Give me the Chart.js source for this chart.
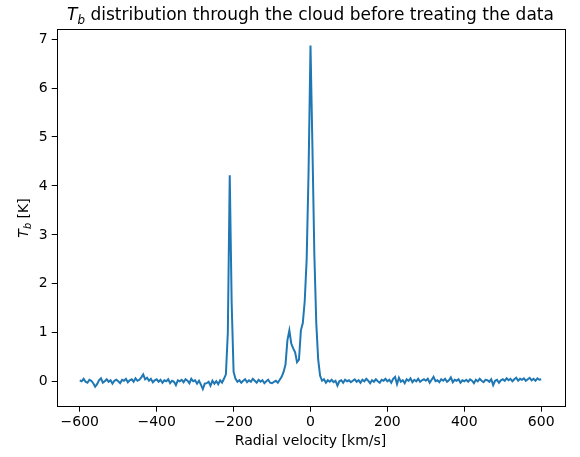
<!DOCTYPE html>
<html>
<head>
<meta charset="utf-8">
<title>Tb distribution</title>
<script src="https://cdn.jsdelivr.net/npm/chart.js@4"></script>
<style>
    html, body { margin: 0; padding: 0; background: #fff; }
    canvas { display: block; }
</style>
</head>
<body>
<canvas id="chart" width="580" height="457"></canvas>
<script>
// Velocidades radiais (km/s)
const velocity = [
    -600, -595, -590, -585, -580, -575, -570, -565, -560, -555, -550, -545, -540, -535, -530, -525, -520, -515, -510, -505,
    -500, -495, -490, -485, -480, -475, -470, -465, -460, -455, -450, -445, -440, -435, -430, -425, -420, -415, -410, -405,
    -400, -395, -390, -385, -380, -375, -370, -365, -360, -355, -350, -345, -340, -335, -330, -325, -320, -315, -310, -305,
    -300, -295, -290, -285, -280, -275, -270, -265, -260, -255, -250, -245, -240, -235, -230, -225, -220, -215, -210, -205,
    -200, -195, -190, -185, -180, -175, -170, -165, -160, -155, -150, -145, -140, -135, -130, -125, -120, -115, -110, -105,
    -100, -95, -90, -85, -80, -75, -70, -65, -60, -55, -50, -45, -40, -35, -30, -25, -20, -15, -10, -5,
    0, 5, 10, 15, 20, 25, 30, 35, 40, 45, 50, 55, 60, 65, 70, 75, 80, 85, 90, 95,
    100, 105, 110, 115, 120, 125, 130, 135, 140, 145, 150, 155, 160, 165, 170, 175, 180, 185, 190, 195,
    200, 205, 210, 215, 220, 225, 230, 235, 240, 245, 250, 255, 260, 265, 270, 275, 280, 285, 290, 295,
    300, 305, 310, 315, 320, 325, 330, 335, 340, 345, 350, 355, 360, 365, 370, 375, 380, 385, 390, 395,
    400, 405, 410, 415, 420, 425, 430, 435, 440, 445, 450, 455, 460, 465, 470, 475, 480, 485, 490, 495,
    500, 505, 510, 515, 520, 525, 530, 535, 540, 545, 550, 555, 560, 565, 570, 575, 580, 585, 590, 595, 600
];

// Temperatura de brilho Tb (K)
const tb = [
    0.03, 0.01, 0.06, 0.00, -0.02, 0.04, 0.02, -0.03, -0.10, -0.05, 0.03, 0.07, -0.02, 0.01, 0.05, 0.00, 0.03, -0.04, 0.02, 0.04,
    0.01, -0.03, 0.04, 0.02, 0.06, -0.01, 0.03, 0.05, 0.00, 0.07, 0.02, 0.04, 0.09, 0.15, 0.05, 0.08, 0.02, 0.06, -0.01, 0.03,
    0.05, 0.00, 0.04, -0.02, 0.03, 0.01, 0.05, -0.03, 0.02, 0.00, -0.07, 0.03, 0.01, 0.04, -0.01, 0.05, 0.02, -0.03, 0.06, 0.01,
    0.03, -0.04, 0.02, -0.06, -0.15, -0.04, -0.03, 0.00, -0.08, 0.02, -0.04, 0.01, -0.05, 0.03, -0.02, 0.06, 0.15, 1.00, 4.22, 1.60,
    0.20, 0.06, 0.00, 0.03, -0.02, 0.02, 0.05, -0.01, 0.03, 0.00, 0.06, 0.02, -0.02, 0.04, 0.00, 0.03, -0.03, 0.01, 0.04, -0.02,
    -0.03, 0.00, 0.02, -0.02, 0.04, 0.10, 0.20, 0.35, 0.85, 1.05, 0.78, 0.68, 0.60, 0.40, 0.45, 1.05, 1.20, 1.65, 2.50, 4.30,
    6.87, 4.80, 2.60, 1.20, 0.45, 0.12, 0.02, 0.05, -0.02, 0.03, 0.00, 0.04, -0.01, 0.02, -0.08, 0.01, 0.03, -0.02, 0.04, 0.01,
    0.03, -0.01, 0.02, 0.05, 0.00, 0.03, -0.02, 0.04, 0.01, 0.06, 0.02, -0.03, 0.03, 0.00, 0.05, 0.01, -0.02, 0.04, 0.02, 0.06,
    0.01, 0.04, -0.02, 0.06, 0.10, -0.05, 0.08, 0.00, 0.03, -0.03, 0.05, 0.02, 0.07, -0.01, 0.04, 0.01, 0.06, 0.00, 0.03, 0.05,
    0.02, 0.06, -0.02, 0.04, 0.10, 0.01, 0.03, -0.01, 0.05, 0.02, 0.06, 0.00, 0.03, 0.09, -0.01, 0.04, 0.02, 0.05, -0.02, 0.03,
    0.01, 0.04, 0.00, 0.05, 0.02, -0.03, 0.04, 0.01, 0.06, 0.02, -0.01, 0.04, 0.03, 0.00, 0.05, -0.07, 0.02, 0.04, -0.02, 0.03,
    0.05, 0.02, 0.07, 0.03, 0.06, 0.01, 0.05, 0.08, 0.02, 0.06, 0.04, 0.07, 0.02, 0.05, 0.08, 0.03, 0.06, 0.02, 0.07, 0.04, 0.05
];

const xTicks = [-600, -400, -200, 0, 200, 400, 600];
const yTicks = [0, 1, 2, 3, 4, 5, 6, 7];

const FONT = "'DejaVu Sans', sans-serif";

// Título e rótulo do eixo y com subscrito (T_b)
function drawSubText(ctx, x, y, size, rest) {
    ctx.font = 'italic ' + size + 'px ' + FONT;
    const wT = ctx.measureText('T').width;
    ctx.font = 'italic ' + (size * 0.7) + 'px ' + FONT;
    const wB = ctx.measureText('b').width;
    ctx.font = size + 'px ' + FONT;
    const wR = ctx.measureText(rest).width;
    let left = x - (wT + wB + wR) / 2;
    ctx.textAlign = 'left';
    ctx.textBaseline = 'alphabetic';
    ctx.font = 'italic ' + size + 'px ' + FONT;
    ctx.fillText('T', left, y);
    ctx.font = 'italic ' + (size * 0.7) + 'px ' + FONT;
    ctx.fillText('b', left + wT, y + size * 0.22);
    ctx.font = size + 'px ' + FONT;
    ctx.fillText(rest, left + wT + wB, y);
}

const framePlugin = {
    id: 'frame',
    afterDraw(chart) {
        const ctx = chart.ctx;
        const a = chart.chartArea;
        ctx.save();
        ctx.strokeStyle = '#000';
        ctx.lineWidth = 1;
        ctx.strokeRect(Math.round(a.left) + 0.5, Math.round(a.top) + 0.5,
            Math.round(a.right - a.left), Math.round(a.bottom - a.top));
        ctx.fillStyle = '#000';
        const cx = (a.left + a.right) / 2;
        drawSubText(ctx, cx, 20, 17, ' distribution through the cloud before treating the data');

        ctx.save();
        ctx.translate(28, (a.top + a.bottom) / 2);
        ctx.rotate(-Math.PI / 2);
        drawSubText(ctx, 0, 0, 14, ' [K]');
        ctx.restore();

        ctx.font = '14px ' + FONT;
        ctx.textAlign = 'center';
        ctx.textBaseline = 'middle';
        ctx.fillText('Radial velocity [km/s]', cx, 441);
        ctx.restore();
    }
};

const minus = v => String(v).replace('-', '\u2212');

new Chart(document.getElementById('chart'), {
    type: 'line',
    data: {
        datasets: [{
            data: velocity.map((v, i) => ({ x: v, y: tb[i] })),
            borderColor: '#1f77b4',
            borderWidth: 2,
            pointRadius: 0,
            tension: 0,
            fill: false
        }]
    },
    options: {
        responsive: false,
        animation: false,
        events: [],
        layout: { padding: { left: 0, right: 15.7, top: 29.3, bottom: 0 } },
        plugins: { legend: { display: false }, tooltip: { enabled: false } },
        scales: {
            x: {
                type: 'linear',
                min: -660,
                max: 660,
                afterBuildTicks: s => { s.ticks = xTicks.map(v => ({ value: v })); },
                afterFit: s => { s.height = 50.3; },
                border: { display: false },
                grid: { drawOnChartArea: false, drawTicks: true, tickLength: 5, color: '#000' },
                ticks: {
                    padding: 2,
                    color: '#000',
                    font: { family: FONT, size: 14 },
                    maxRotation: 0,
                    callback: v => minus(v)
                }
            },
            y: {
                type: 'linear',
                min: -0.51,
                max: 7.2,
                afterBuildTicks: s => { s.ticks = yTicks.map(v => ({ value: v })); },
                afterFit: s => { s.width = 56.7; },
                border: { display: false },
                grid: { drawOnChartArea: false, drawTicks: true, tickLength: 5, color: '#000' },
                ticks: {
                    padding: 4,
                    color: '#000',
                    font: { family: FONT, size: 14 },
                    callback: v => minus(v)
                }
            }
        }
    },
    plugins: [framePlugin]
});
</script>
</body>
</html>
